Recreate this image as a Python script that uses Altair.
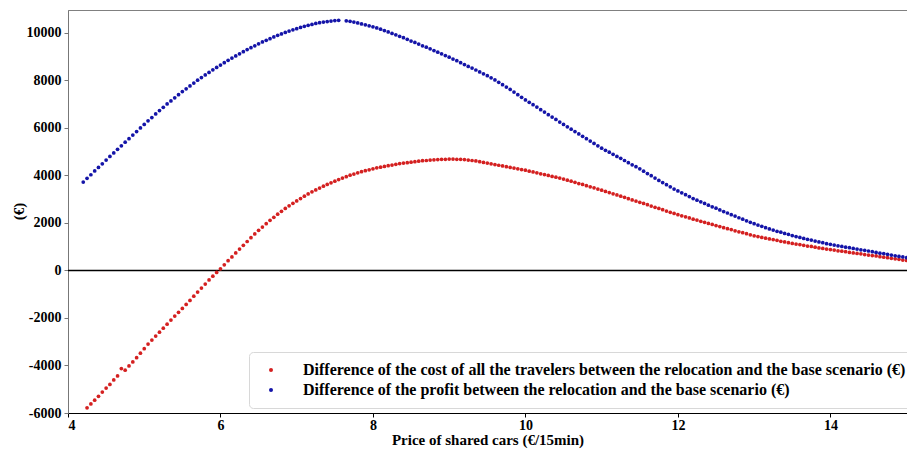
import numpy as np
import pandas as pd
import altair as alt

# sampling grid of the price (€/15min)
price_grid = [round(v, 2) for v in np.arange(4.20, 15.0001, 0.05)]
price_profit = [p for p in price_grid if p != 7.60]
price_cost = price_grid[1:]

profit_diff = [
    3720, 3880, 4030, 4190, 4340, 4490, 4650, 4800, 4950, 5100,
    5250, 5400, 5550, 5700, 5850, 6000, 6150, 6300, 6440, 6590,
    6730, 6870, 7010, 7140, 7270, 7400, 7530, 7650, 7770, 7890,
    8010, 8120, 8230, 8340, 8450, 8550, 8650, 8750, 8850, 8940,
    9030, 9120, 9210, 9300, 9380, 9460, 9540, 9620, 9690, 9760,
    9830, 9900, 9960, 10020, 10080, 10130, 10180, 10230, 10280, 10320,
    10360, 10400, 10430, 10460, 10480, 10500, 10520, 10530,
    10510, 10490, 10460, 10420, 10380, 10340, 10300, 10260, 10210, 10160,
    10100, 10040, 9980, 9920, 9860, 9800, 9730, 9660, 9600, 9530,
    9460, 9400, 9330, 9260, 9190, 9120, 9050, 8980, 8900, 8830,
    8750, 8670, 8590, 8520, 8440, 8360, 8280, 8200, 8110, 8020,
    7920, 7820, 7720, 7620, 7510, 7400, 7290, 7180, 7080, 6980,
    6880, 6770, 6670, 6560, 6460, 6360, 6250, 6150, 6050, 5950,
    5850, 5750, 5650, 5550, 5450, 5350, 5250, 5150, 5060, 4980,
    4890, 4800, 4720, 4630, 4540, 4450, 4370, 4280, 4180, 4080,
    3990, 3890, 3790, 3700, 3610, 3520, 3430, 3350, 3270, 3190,
    3110, 3030, 2960, 2890, 2820, 2750, 2680, 2620, 2550, 2480,
    2420, 2350, 2290, 2220, 2160, 2090, 2030, 1970, 1910, 1860,
    1800, 1750, 1700, 1650, 1610, 1560, 1520, 1470, 1430, 1390,
    1350, 1310, 1280, 1240, 1200, 1170, 1130, 1100, 1070, 1040,
    1010, 980, 960, 930, 900, 870, 850, 820, 790, 760,
    730, 710, 680, 650, 620, 590, 570, 540,
]

cost_diff = [
    -5780, -5620, -5460, -5300, -5120, -4950, -4800, -4610, -4440, -4130,
    -4200, -4020, -3850, -3670, -3480, -3290, -3100, -2930, -2760, -2600,
    -2430, -2260, -2090, -1920, -1760, -1600, -1430, -1260, -1080, -910,
    -740, -570, -400, -240, -80, 70, 240, 410, 570, 740,
    900, 1060, 1220, 1380, 1540, 1690, 1830, 1970, 2110, 2240,
    2370, 2490, 2610, 2720, 2830, 2930, 3030, 3130, 3220, 3310,
    3390, 3470, 3550, 3620, 3690, 3760, 3830, 3890, 3950, 4010,
    4060, 4110, 4160, 4200, 4240, 4280, 4320, 4350, 4380, 4410,
    4440, 4470, 4500, 4520, 4540, 4560, 4580, 4600, 4620, 4630,
    4650, 4660, 4670, 4680, 4680, 4690, 4690, 4680, 4680, 4670,
    4650, 4630, 4610, 4580, 4550, 4520, 4490, 4460, 4430, 4400,
    4370, 4340, 4310, 4280, 4250, 4220, 4180, 4150, 4110, 4070,
    4040, 4000, 3960, 3930, 3890, 3850, 3800, 3760, 3710, 3660,
    3620, 3570, 3520, 3480, 3430, 3380, 3330, 3280, 3230, 3180,
    3130, 3080, 3020, 2970, 2920, 2870, 2820, 2770, 2710, 2660,
    2610, 2560, 2500, 2450, 2400, 2350, 2300, 2260, 2210, 2160,
    2120, 2070, 2030, 1980, 1940, 1890, 1850, 1800, 1760, 1720,
    1670, 1630, 1590, 1550, 1500, 1460, 1430, 1390, 1360, 1330,
    1300, 1270, 1230, 1200, 1170, 1140, 1110, 1090, 1060, 1030,
    1010, 980, 950, 930, 900, 880, 860, 830, 810, 790,
    760, 740, 720, 700, 670, 650, 630, 610, 580, 560,
    540, 510, 490, 470, 440, 420,
]

cost_label = "Difference of the cost of all the travelers between the relocation and the base scenario (€)"
profit_label = "Difference of the profit between the relocation and the base scenario (€)"
series_names = [cost_label, profit_label]
series_colors = ["#d42020", "#1414a8"]

x_ticks = [4, 6, 8, 10, 12, 14]
y_ticks = [-6000, -4000, -2000, 0, 2000, 4000, 6000, 8000, 10000]

df = pd.concat([
    pd.DataFrame({"price": price_cost, "value": cost_diff, "series": cost_label}),
    pd.DataFrame({"price": price_profit, "value": profit_diff, "series": profit_label}),
], ignore_index=True)

FONT = "Liberation Serif"

xscale = alt.Scale(domain=[4, 15.005], nice=False, zero=False)
yscale = alt.Scale(domain=[-6000, 10966], nice=False, zero=False)

points = alt.Chart(df).mark_circle(size=14, opacity=1).encode(
    x=alt.X("price:Q", scale=xscale,
            axis=alt.Axis(values=x_ticks, title="Price of shared cars (€/15min)",
                          grid=False, tickSize=4, labelPadding=1, titlePadding=0,
                          domainColor="black", domainWidth=1.2, tickColor="black")),
    y=alt.Y("value:Q", scale=yscale,
            axis=alt.Axis(values=y_ticks, title="(€)", grid=False, tickSize=4,
                          labelPadding=3, titleX=-50, titleY=201,
                          titleBaseline="middle", titleAlign="center", titleAngle=270,
                          labelExpr="'' + datum.value",
                          domainColor="#777777", tickColor="#777777")),
    color=alt.Color("series:N",
                    scale=alt.Scale(domain=series_names, range=series_colors),
                    sort=series_names,
                    legend=alt.Legend(title=None, orient="none", legendX=181, legendY=342,
                                      symbolType="circle", symbolSize=16,
                                      symbolOffset=4, labelOffset=24,
                                      padding=10, rowPadding=4,
                                      fillColor="white", strokeColor="#d8d8d8",
                                      cornerRadius=4, labelLimit=900,
                                      labelFont=FONT, labelFontSize=16,
                                      labelFontWeight="bold", labelColor="black")),
)

zero_rule = alt.Chart(pd.DataFrame({"y": [0]})).mark_rule(
    color="black", strokeWidth=1.3).encode(y=alt.Y("y:Q", scale=yscale))

chart = alt.layer(zero_rule, points).properties(
    width=839, height=403,
    autosize=alt.AutoSizeParams(type="none"),
    padding={"left": 60, "top": 2, "right": 0, "bottom": 42},
).configure_view(
    stroke="#808080", strokeWidth=1
).configure_axis(
    labelFont=FONT, labelFontSize=14, labelFontWeight="bold", labelColor="black",
    titleFont=FONT, titleFontSize=15, titleFontWeight="bold", titleColor="black",
)

chart.save("out.html", embed_options={"renderer": "svg", "actions": False})
